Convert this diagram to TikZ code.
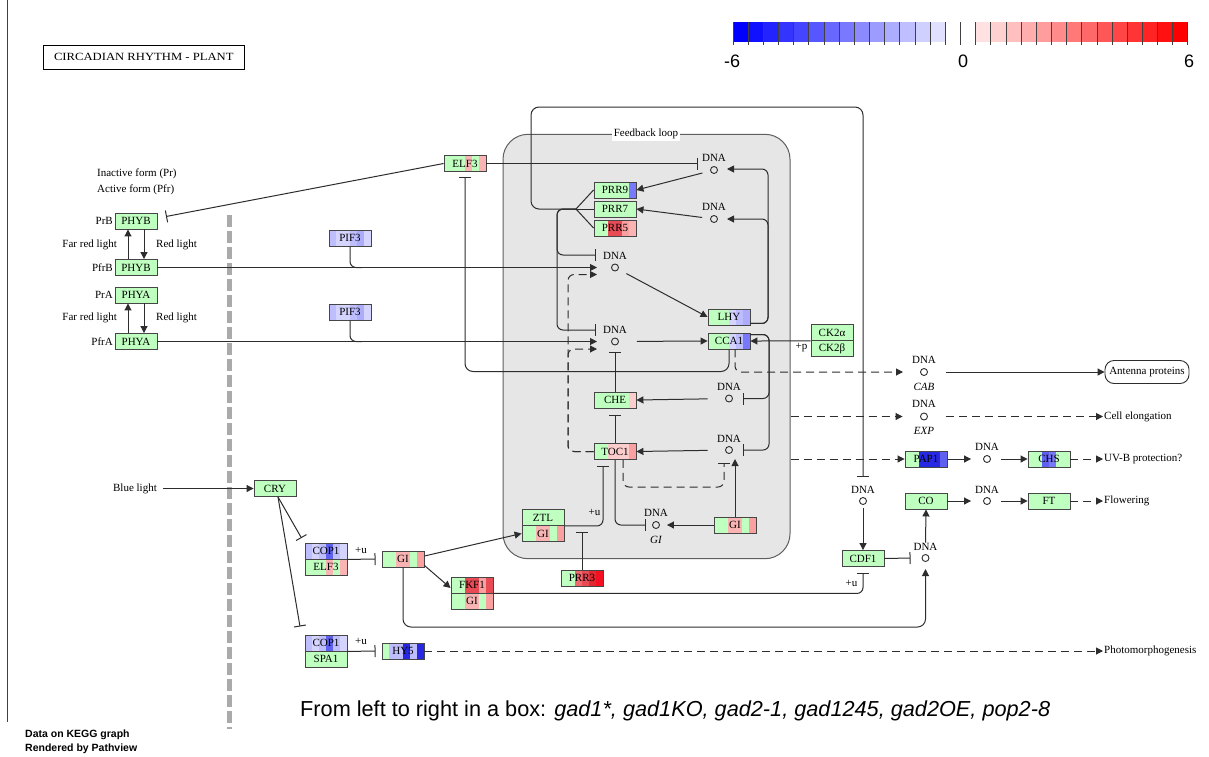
\documentclass[tikz,border=0pt]{standalone}
\usepackage{fontspec}
\usepackage{graphicx}
\setmainfont{Liberation Serif}
\setsansfont{Liberation Sans}
\usetikzlibrary{arrows.meta,calc}
\definecolor{lc}{RGB}{45,45,45}
\definecolor{gb}{RGB}{70,70,70}
\definecolor{cG}{RGB}{191,255,191}
\definecolor{cP1}{RGB}{250,180,180}
\definecolor{cP2}{RGB}{252,205,205}
\definecolor{cP3}{RGB}{250,160,160}
\definecolor{cR1}{RGB}{232,75,85}
\definecolor{cR2}{RGB}{240,105,110}
\definecolor{cR3}{RGB}{228,40,50}
\definecolor{cR4}{RGB}{245,15,35}
\definecolor{cL1}{RGB}{190,190,255}
\definecolor{cL2}{RGB}{212,212,255}
\definecolor{cL3}{RGB}{172,172,250}
\definecolor{cB1}{RGB}{120,120,250}
\definecolor{cB2}{RGB}{40,40,228}
\definecolor{cB3}{RGB}{95,95,240}
\definecolor{fbfill}{RGB}{230,230,230}
\definecolor{fbdraw}{RGB}{95,95,95}
\definecolor{sepgray}{RGB}{170,170,170}
\newcommand{\gfont}{\fontsize{11}{12.5}\selectfont}
\newcommand{\genebox}[4]{%
  \foreach \gcol [count=\gidx from 0] in {#3} {
    \fill[\gcol] ($(#2)+(-21+7*\gidx,-8)$) rectangle ++(7,16);
  }
  \node[gene] (#1) at (#2) {#4};
}
\tikzset{
  ln/.style={draw=lc, line width=1pt},
  arr/.style={ln, -{Triangle[length=7pt,width=7pt]}},
  inh/.style={ln, -{Bar[width=12pt]}},
  darr/.style={arr, dash pattern=on 8pt off 5pt},
  dinh/.style={inh, dash pattern=on 8pt off 5pt},
  gene/.style={draw=gb, line width=0.9pt, minimum width=42pt, minimum height=16pt, inner sep=0pt, font=\gfont},
  dna/.style={circle, draw=lc, line width=0.9pt, minimum size=7pt, inner sep=0pt},
  lbl/.style={font=\gfont, inner sep=0pt},
  ilbl/.style={font=\gfont\itshape, inner sep=0pt},
}
\begin{document}
\begin{tikzpicture}[x=1pt,y=-1pt]
\fill[white] (0,0) rectangle (1209,756);
\useasboundingbox (0,0) rectangle (1209,756);
% frame
\draw[black!75, line width=0.8pt] (7,0) -- (7,722);
% title
\node[draw=black, line width=1.4pt, minimum width=201pt, minimum height=24pt, inner sep=0pt, font=\gfont] (title) at (143.8,57.2) {\scalebox{1.15}[1]{CIRCADIAN RHYTHM - PLANT}};
% legend
\foreach \k in {0,...,13} {
  \pgfmathsetmacro\pc{100-\k*6.8}
  \fill[blue!\pc!white] ({733+\k*15.16},22) rectangle ++(15.16,20);
}
\foreach \k in {0,...,13} {
  \pgfmathsetmacro\pc{11.6+\k*6.8}
  \fill[red!\pc!white] ({975.6+\k*15.16},22) rectangle ++(15.16,20);
}
\foreach \k in {0,...,30} {
  \draw[black!75, line width=0.7pt] ({733+\k*15.16},22) -- ++(0,23);
}
\node[font=\fontsize{18}{20}\sffamily, inner sep=0pt] (lm) at (732,61) {-6};
\node[font=\fontsize{18}{20}\sffamily, inner sep=0pt] (lz) at (963,61) {0};
\node[font=\fontsize{18}{20}\sffamily, inner sep=0pt] (lp) at (1189,61) {6};
% separator
\draw[line width=5pt, draw=sepgray, dash pattern=on 12pt off 4pt] (229,215) -- (229,729);
% feedback loop
\node[draw=fbdraw, fill=fbfill, line width=1pt, rounded corners=25pt, minimum width=287pt, minimum height=424.4pt, inner sep=0pt] (fb) at (646.5,346.5) {};
\node[lbl, fill=white, inner sep=1.5pt] (fbl) at (646,134.3) {Feedback loop};
% genes
\genebox{phybA}{136,221}{cG,cG,cG,cG,cG,cG}{PHYB}
\genebox{phybB}{136,267.5}{cG,cG,cG,cG,cG,cG}{PHYB}
\genebox{phyaA}{136,295}{cG,cG,cG,cG,cG,cG}{PHYA}
\genebox{phyaB}{136,341.5}{cG,cG,cG,cG,cG,cG}{PHYA}
\genebox{elfT}{465,163.5}{cG,cG,cG,cP1,cG,cP1}{ELF3}
\genebox{pifA}{350,238}{cL1,cL2,cL2,cL1,cL3,cL2}{PIF3}
\genebox{pifB}{350,312}{cL1,cL2,cL2,cL1,cL3,cL2}{PIF3}
\genebox{prr9}{615,190}{cG,cG,cG,cG,cG,cB1}{PRR9}
\genebox{prr7}{615,209}{cG,cG,cG,cG,cG,cG}{PRR7}
\genebox{prr5}{615,228}{cG,cG,cR1,cR1,cP3,cP1}{PRR5}
\genebox{lhy}{729,317}{cG,cG,cG,cL2,cL1,cL3}{LHY}
\genebox{cca}{729,341}{cG,cG,cG,cL2,cL1,cB1}{CCA1}
\genebox{ckA}{832,332.5}{cG,cG,cG,cG,cG,cG}{CK2α}
\genebox{ckB}{832,348.5}{cG,cG,cG,cG,cG,cG}{CK2β}
\genebox{che}{615,400}{cG,cG,cG,cG,cG,cP2}{CHE}
\genebox{toc}{615,451.5}{cG,cG,cP2,cP2,cP2,cP3}{TOC1}
\genebox{ztl}{543,517.5}{cG,cG,cG,cG,cG,cG}{ZTL}
\genebox{giz}{543,533.5}{cG,cG,cP1,cP1,cG,cP3}{GI}
\genebox{gir}{735,525}{cG,cG,cP1,cP1,cG,cP3}{GI}
\genebox{prr3}{582,578}{cG,cG,cR2,cR1,cR3,cR4}{PRR3}
\genebox{pap}{926,459}{cG,cG,cB2,cB2,cB2,cB3}{PAP1}
\genebox{chs}{1049,459}{cG,cG,cB3,cB1,cG,cG}{CHS}
\genebox{co}{926,501}{cG,cG,cG,cG,cG,cG}{CO}
\genebox{ft}{1049,501}{cG,cG,cG,cG,cG,cG}{FT}
\genebox{cdf}{863,558.5}{cG,cG,cG,cG,cG,cG}{CDF1}
\genebox{cry}{275,488.5}{cG,cG,cG,cG,cG,cG}{CRY}
\genebox{copA}{326,551}{cL1,cL2,cL1,cB3,cL1,cL2}{COP1}
\genebox{elfB}{326,567}{cG,cG,cG,cP1,cG,cP1}{ELF3}
\genebox{gil}{403,559}{cG,cG,cP1,cP1,cG,cP3}{GI}
\genebox{fkf}{472,585}{cG,cG,cR1,cR1,cP3,cR1}{FKF1}
\genebox{gif}{472,601}{cG,cG,cP1,cP1,cG,cP3}{GI}
\genebox{copB}{326,643}{cL1,cL2,cL1,cB3,cL1,cL2}{COP1}
\genebox{spa}{326,659}{cG,cG,cG,cG,cG,cG}{SPA1}
\genebox{hy}{403,651}{cG,cL1,cL1,cB2,cL1,cB2}{HY5}
% DNA nodes
\node[dna] (d1) at (714,170) {}; \node[lbl] (d1l) at (714,158) {DNA};
\node[dna] (d2) at (714,219) {}; \node[lbl] (d2l) at (714,207) {DNA};
\node[dna] (d3) at (615,267.5) {}; \node[lbl] (d3l) at (615,256) {DNA};
\node[dna] (d4) at (615,341.5) {}; \node[lbl] (d4l) at (615,330) {DNA};
\node[dna] (d5) at (729,398.5) {}; \node[lbl] (d5l) at (729,387) {DNA};
\node[dna] (d6) at (729,450) {}; \node[lbl] (d6l) at (729,438.5) {DNA};
\node[dna] (d7) at (656,525) {}; \node[lbl] (d7l) at (656,513) {DNA};
\node[ilbl] (d7i) at (656,539.5) {GI};
\node[dna] (dcab) at (924,372) {}; \node[lbl] (dcabl) at (924,360) {DNA};
\node[ilbl] (dcabi) at (924,387) {CAB};
\node[dna] (dexp) at (924,416.5) {}; \node[lbl] (dexpl) at (924,404) {DNA};
\node[ilbl] (dexpi) at (924,431) {EXP};
\node[dna] (dpap) at (987,459) {}; \node[lbl] (dpapl) at (987,447) {DNA};
\node[dna] (dco) at (987,501) {}; \node[lbl] (dcol) at (987,489.5) {DNA};
\node[dna] (dcdf) at (863,501) {}; \node[lbl] (dcdfl) at (863,489.5) {DNA};
\node[dna] (dco2) at (925.5,558) {}; \node[lbl] (dco2l) at (925.5,546.5) {DNA};
% end labels
\node[draw=lc, line width=0.9pt, rounded corners=9pt, minimum width=84pt, minimum height=23pt, inner sep=0pt, font=\gfont] (ant) at (1147,372) {Antenna proteins};
\node[lbl, anchor=west] (cell) at (1104,416.5) {Cell elongation};
\node[lbl, anchor=west] (uvb) at (1104,459) {UV-B protection?};
\node[lbl, anchor=west] (flow) at (1104,501) {Flowering};
\node[lbl, anchor=west] (photo) at (1104,651) {Photomorphogenesis};
% PHY labels
\node[lbl, anchor=west] (inact) at (97,174) {Inactive form (Pr)};
\node[lbl, anchor=west] (act) at (97,189.5) {Active form (Pfr)};
\node[lbl, anchor=east] (prb) at (113,221) {PrB};
\node[lbl, anchor=east] (pfrb) at (113,267.5) {PfrB};
\node[lbl, anchor=east] (pra) at (113,295) {PrA};
\node[lbl, anchor=east] (pfra) at (113,341.5) {PfrA};
\node[lbl, anchor=east] (frl1) at (117,245) {Far red light};
\node[lbl, anchor=west] (rl1) at (156,245) {Red light};
\node[lbl, anchor=east] (frl2) at (117,318) {Far red light};
\node[lbl, anchor=west] (rl2) at (156,318) {Red light};
\node[lbl, anchor=east] (blue) at (157,488.5) {Blue light};
% small labels
\node[lbl] (u1) at (594.5,512.5) {+u};
\node[lbl] (u2) at (851.5,583.5) {+u};
\node[lbl] (u3) at (361,550) {+u};
\node[lbl] (u4) at (361,641) {+u};
\node[lbl] (pp) at (801.5,347.5) {+p};
% coordinates
\coordinate (jp) at (576,209);
\coordinate (oTL) at (531,107);
\coordinate (bCDF) at (863,477);
\coordinate (i1) at (557,255);
\coordinate (b3) at (596,255);
\coordinate (i2) at (557,330);
\coordinate (b4) at (596,330);
\coordinate (t3a) at (597,267.5);
\coordinate (t3b) at (597,274.5);
\coordinate (dc1) at (568,274.5);
\coordinate (t4a) at (597,341.5);
\coordinate (t4b) at (597,349);
\coordinate (dc2) at (568,349);
\coordinate (pj1) at (362,267.5);
\coordinate (pj2) at (362,341.5);
\coordinate (bPHY) at (166,216.5);
\coordinate (b1) at (698,163.5);
\coordinate (bELF) at (465,177);
\coordinate (cc1) at (465,371.5);
\coordinate (tCAB) at (903,372);
\coordinate (r1) at (768,169);
\coordinate (t1) at (727,169);
\coordinate (r2) at (768,219);
\coordinate (t2) at (727,219);
\coordinate (r5) at (769,398.5);
\coordinate (b5) at (743,398.5);
\coordinate (r6) at (769,450);
\coordinate (b6) at (743,450);
\coordinate (t6) at (735,459);
\coordinate (b7) at (646,525);
\coordinate (dd1) at (724,487);
\coordinate (b6b) at (724,463);
\coordinate (bTOC) at (603,466);
\coordinate (bZTL) at (582,531.5);
\coordinate (bc1) at (301.5,538);
\coordinate (bc2) at (300,626.5);
\coordinate (bCDF1) at (863,573);
\coordinate (gB) at (925.5,627);
\coordinate (tD2) at (925.5,569);
% PHY connectors
\draw[arr] ([xshift=-8pt]phybB.north) -- ([xshift=-8pt]phybA.south);
\draw[arr] ([xshift=8pt]phybA.south) -- ([xshift=8pt]phybB.north);
\draw[arr] ([xshift=-8pt]phyaB.north) -- ([xshift=-8pt]phyaA.south);
\draw[arr] ([xshift=8pt]phyaA.south) -- ([xshift=8pt]phyaB.north);
\draw[arr] (phybB.east) -- (t3a);
\draw[arr] (phyaB.east) -- (t4a);
\draw[ln, rounded corners=6pt] (pifA.south) |- (pj1);
\draw[ln, rounded corners=6pt] (pifB.south) |- (pj2);
% ELF3
\draw[inh] (elfT.west) -- (bPHY);
\draw[inh] (elfT.east) -- (b1);
\draw[inh, rounded corners=8pt] (cca.south) |- (cc1) -- (bELF);
% PRR group
\draw[ln] (prr9.west) -- (jp);
\draw[ln] (prr7.west) -- (jp);
\draw[ln] (prr5.west) -- (jp);
\draw[inh, rounded corners=8pt] (jp) -| (oTL) -| (bCDF);
\draw[inh, rounded corners=6pt] (jp) -| (i1) -- (b3);
\draw[inh, rounded corners=6pt] (jp) -| (i2) -- (b4);
\draw[arr, shorten <=8pt] (d1) -- (prr9.east);
\draw[arr, shorten <=8pt] (d2) -- (prr7.east);
% TOC1 dashed to DNA
\draw[darr, rounded corners=6pt] (toc.west) -| (dc1) -- (t3b);
\draw[darr, rounded corners=6pt] (toc.west) -| (dc2) -- (t4b);
% LHY / CCA1
\draw[arr, shorten <=9pt] (d3) -- (lhy.west);
\draw[arr, shorten <=18pt] (d4) -- (cca.west);
\draw[arr, rounded corners=6pt] ([yshift=2pt]lhy.south east) -| (r1) -- (t1);
\draw[arr, rounded corners=6pt] ([yshift=2pt]lhy.south east) -| (r2) -- (t2);
\draw[inh, rounded corners=6pt] ([yshift=-2pt]cca.north east) -| (r5) -- (b5);
\draw[inh, rounded corners=6pt] ([yshift=-2pt]cca.north east) -| (r6) -- (b6);
\draw[arr] (ckA.south west) -- (cca.east);
\draw[darr, rounded corners=6pt] ([xshift=6pt]cca.south) |- (tCAB);
% CHE / TOC1
\draw[arr, shorten <=17.5pt] (d5) -- (che.east);
\draw[arr, shorten <=17.5pt] (d6) -- (toc.east);
\draw[inh] (toc.north) -- ([yshift=-7pt]che.south);
\draw[inh] (che.north) -- ([yshift=-7pt]d4.south);
\draw[arr] (gir.north) -- (t6);
\draw[arr] (gir.west) -- ([xshift=7pt]d7.east);
\draw[inh, rounded corners=6pt] (toc.south) |- (b7);
\draw[dinh, rounded corners=6pt] ([xshift=8pt]toc.south) |- (dd1) -- (b6b);
\draw[inh, rounded corners=6pt] (ztl.south east) -| (bTOC);
\draw[inh] (prr3.north) -- (bZTL);
% lower left
\draw[arr] ([xshift=6pt]blue.east) -- (cry.west);
\draw[inh] ([xshift=3pt]cry.south) -- (bc1);
\draw[inh] ([xshift=3pt]cry.south) -- (bc2);
\draw[inh] (copA.south east) -- ([xshift=-6pt]gil.west);
\draw[inh] (copB.south east) -- ([xshift=-6pt]hy.west);
\draw[arr] ([yshift=3pt]gil.east) -- (giz.west);
\draw[arr] ([yshift=2pt]gil.south east) -- ([yshift=-3pt]fkf.west);
\draw[inh, rounded corners=6pt] (fkf.south east) -| (bCDF1);
\draw[arr, rounded corners=8pt] (gil.south) |- (gB) -- (tD2);
\draw[darr] (hy.east) -- ([xshift=-1pt]photo.west);
% right side
\draw[arr, shorten <=3pt] (dcdf) -- (cdf.north);
\draw[inh] (cdf.east) -- ([xshift=-11pt]dco2.west);
\draw[arr] (dco2l.north) -- (co.south);
\draw[arr, shorten <=18pt] (dcab) -- (ant.west);
\draw[darr] (fb.east |- dexp) -- ([xshift=-17.5pt]dexp.west);
\draw[darr, shorten <=18pt] (dexp) -- ([xshift=-1pt]cell.west);
\draw[darr] (fb.east |- pap.west) -- (pap.west);
\draw[arr] (pap.east) -- ([xshift=-12pt]dpap.west);
\draw[arr, shorten <=10pt] (dpap) -- (chs.west);
\draw[darr] (chs.east) -- ([xshift=-1pt]uvb.west);
\draw[arr] (co.east) -- ([xshift=-12pt]dco.west);
\draw[arr, shorten <=10pt] (dco) -- (ft.west);
\draw[darr] (ft.east) -- ([xshift=-1pt]flow.west);
% bottom texts
\node[anchor=west, inner sep=0pt, font=\fontsize{21.7}{25}\sffamily] (note) at (300,711) {From left to right in a box: \textit{gad1*, gad1KO, gad2-1, gad1245, gad2OE, pop2-8}};
\node[anchor=west, inner sep=0pt, font=\fontsize{10.5}{12}\sffamily\bfseries] (pv1) at (25,735) {Data on KEGG graph};
\node[anchor=west, inner sep=0pt, font=\fontsize{10.5}{12}\sffamily\bfseries] (pv2) at (25,748.5) {Rendered by Pathview};
\end{tikzpicture}
\end{document}
